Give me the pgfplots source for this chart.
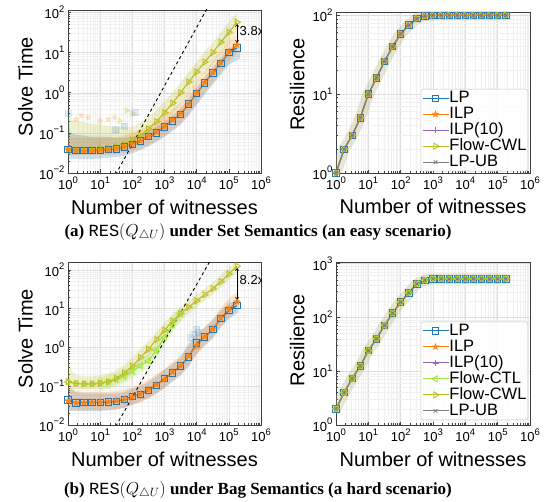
\documentclass[border=0pt]{standalone}
\usepackage{fontspec}
\usepackage{pgfplots}
\pgfplotsset{compat=1.18}
\usepackage{pgfplotstable}
\setmainfont{Liberation Serif}
\newfontfamily\sansf{Liberation Sans}
\newfontfamily\monof{Liberation Mono}

\definecolor{cLP}{RGB}{31,119,180}
\definecolor{cILP}{RGB}{255,127,14}
\definecolor{cPUR}{RGB}{148,103,189}
\definecolor{cCTL}{RGB}{160,230,60}
\definecolor{cCWL}{RGB}{188,189,34}
\definecolor{cUB}{RGB}{127,127,127}
\definecolor{cCloud}{RGB}{175,175,120}

\newcommand{\tp}[1]{10\raisebox{0.5em}{\fontsize{9.5}{9.5}\selectfont#1}}

% filled five-pointed star (matplotlib '*')
\pgfdeclareplotmark{fstar}{%
  \pgfpathmoveto{\pgfpointpolar{90}{\pgfplotmarksize}}%
  \pgfpathlineto{\pgfpointpolar{126}{0.42\pgfplotmarksize}}%
  \pgfpathlineto{\pgfpointpolar{162}{\pgfplotmarksize}}%
  \pgfpathlineto{\pgfpointpolar{198}{0.42\pgfplotmarksize}}%
  \pgfpathlineto{\pgfpointpolar{234}{\pgfplotmarksize}}%
  \pgfpathlineto{\pgfpointpolar{270}{0.42\pgfplotmarksize}}%
  \pgfpathlineto{\pgfpointpolar{306}{\pgfplotmarksize}}%
  \pgfpathlineto{\pgfpointpolar{342}{0.42\pgfplotmarksize}}%
  \pgfpathlineto{\pgfpointpolar{18}{\pgfplotmarksize}}%
  \pgfpathlineto{\pgfpointpolar{54}{0.42\pgfplotmarksize}}%
  \pgfpathclose\pgfusepathqfillstroke}

% ---- solve time, set semantics
\pgfplotstableread{
x LP ILP CWL
1 0.038 0.038 0.037
1.778 0.037 0.037 0.037
3.162 0.036 0.036 0.037
5.623 0.036 0.036 0.038
10 0.037 0.037 0.040
17.78 0.038 0.038 0.042
31.62 0.040 0.040 0.046
56.23 0.045 0.045 0.052
100 0.052 0.053 0.066
177.8 0.063 0.064 0.088
316.2 0.080 0.082 0.125
562.3 0.10 0.105 0.19
1000 0.14 0.145 0.32
1778 0.20 0.21 0.55
3162 0.29 0.30 1.0
5623 0.52 0.53 1.85
10000 0.96 1.0 3.3
17783 1.76 1.8 5.8
31623 3.1 3.2 10
56234 5.4 5.6 18
100000 9.9 10.5 32
177828 13 15.5 57
}\tabSetTime

% ---- solve time, bag semantics
\pgfplotstableread{
x LP ILP CWL CTL
1 0.044 0.042 0.13 0.13
1.778 0.037 0.037 0.118 0.118
3.162 0.038 0.038 0.115 0.115
5.623 0.038 0.039 0.115 0.115
10 0.038 0.039 0.12 0.12
17.78 0.039 0.040 0.13 0.13
31.62 0.041 0.042 0.16 0.15
56.23 0.045 0.046 0.22 0.18
100 0.055 0.053 0.33 0.24
177.8 0.062 0.063 0.55 0.34
316.2 0.079 0.081 0.9 0.45
562.3 0.106 0.11 1.6 0.85
1000 0.16 0.15 2.8 1.8
1778 0.22 0.23 4.8 3.8
3162 0.33 0.34 7.5 7.5
5623 0.57 0.6 11 nan
10000 1.3 1.1 16 nan
17783 1.85 1.9 23 nan
31623 2.9 3.0 33 nan
56234 5.5 5.8 50 nan
100000 8.9 9.8 78 nan
177828 12 15 125 nan
}\tabBagTime

% ---- resilience
\pgfplotstableread{
x R
1 1
1.778 2
3.162 3
5.623 5
10 10
17.78 16
31.62 26
56.23 40
100 58
177.8 75
316.2 91
562.3 98
1000 100
1778 100
3162 100
5623 100
10000 100
17783 100
31623 100
56234 100
100000 100
177828 100
}\tabSetRes

\pgfplotstableread{
x R
1 2
1.778 4
3.162 7.3
5.623 12.5
10 24
17.78 40
31.62 71
56.23 120
100 192
177.8 285
316.2 420
562.3 490
1000 520
1778 520
3162 520
5623 520
10000 520
17783 520
31623 520
56234 520
100000 520
177828 520
}\tabBagRes

\tikzset{
  pLP/.style={cLP, line width=1.1pt, mark=square, mark size=3.2pt, mark options={solid, line width=0.9pt}},
  pILP/.style={cILP, line width=1.1pt, mark=fstar, mark size=3.4pt, mark options={solid, fill=cILP, line width=0.3pt}},
  pP10/.style={cPUR, line width=1.1pt, mark=+, mark size=3pt, mark options={solid, line width=0.8pt}},
  pCTL/.style={cCTL, line width=1.1pt, mark=triangle, mark size=3.5pt, mark options={solid, rotate=90, line width=0.9pt}},
  pCWL/.style={cCWL, line width=1.1pt, mark=triangle, mark size=3.5pt, mark options={solid, rotate=-90, line width=0.9pt}},
  pUB/.style={cUB, line width=1.1pt, mark=x, mark size=2.6pt, mark options={solid, line width=0.8pt}},
  pBand/.style={draw=none, fill=#1, fill opacity=0.22},
  pCloud/.style={cCloud, line width=11pt, opacity=0.3, line join=round, line cap=round},
}

\pgfplotsset{
  every axis/.append style={
    scale only axis,
    xmin=1, xmax=1e6,
    xtick={1,10,100,1000,10000,100000,1000000},
    xticklabels={\tp{0},\tp{1},\tp{2},\tp{3},\tp{4},\tp{5},\tp{6}},
    minor xtick={2,3,4,5,6,7,8,9,20,30,40,50,60,70,80,90,200,300,400,500,600,700,800,900,2000,3000,4000,5000,6000,7000,8000,9000,20000,30000,40000,50000,60000,70000,80000,90000,200000,300000,400000,500000,600000,700000,800000,900000},
    minor ytick={0.02,0.03,0.04,0.05,0.06,0.07,0.08,0.09,0.2,0.3,0.4,0.5,0.6,0.7,0.8,0.9,2,3,4,5,6,7,8,9,20,30,40,50,60,70,80,90,200,300,400,500,600,700,800,900},
    grid=both,
    major grid style={black!13, line width=0.4pt},
    minor grid style={black!6, line width=0.3pt},
    axis line style={black!75, line width=0.8pt},
    tick style={black!75, line width=0.5pt},
    tick align=inside,
    xtick pos=bottom, ytick pos=left,
    major tick length=3.5pt, minor tick length=2pt,
    xticklabel style={font=\sansf\fontsize{13}{13}\selectfont},
    yticklabel style={font=\sansf\fontsize{13}{13}\selectfont},
    xlabel style={font=\sansf\fontsize{20}{20}\selectfont, at={(axis description cs:0.5,-0.21)}, anchor=center},
    ylabel style={font=\sansf\fontsize{20}{20}\selectfont, anchor=center},
    xlabel={Number of witnesses},
    legend cell align=left,
    legend style={font=\sansf\fontsize{16.5}{16.5}\selectfont,
      at={(0.99,0.01)}, anchor=south east, draw=black!25, rounded corners=2pt,
      fill=white, fill opacity=0.85, text opacity=1,
      inner sep=1pt, row sep=0pt,
      nodes={inner sep=0.4pt, text height=11.8pt, text depth=3.4pt}},
    legend image code/.code={\draw[mark repeat=2,mark phase=2,#1] plot coordinates {(0pt,0pt) (13pt,0pt) (26pt,0pt)};},
  },
}

\begin{document}
\begin{tikzpicture}
\path[use as bounding box] (0,0) rectangle (551pt,502pt);

% ================= top left: solve time (set)
\begin{axis}[xmode=log, ymode=log, at={(68pt,329pt)}, anchor=south west,
  width=193pt, height=163pt,
  ymin=0.01, ymax=115, ylabel={Solve Time},
  ylabel style={at={(axis description cs:-0.22,0.53)}},
  ytick={0.01,0.1,1,10,100}, yticklabels={\tp{−2},\tp{−1},\tp{0},\tp{1},\tp{2}}]
\addplot[pBand=cCWL, forget plot] coordinates {(1,0.25)(1.778,0.2)(3.162,0.18)(5.623,0.17)(10,0.16)(17.78,0.15)(31.62,0.14)(56.23,0.14)(100,0.14)(177.8,0.18)(316.2,0.24)(562.3,0.36)(1000,0.6)(1778,1.0)(3162,1.8)(5623,3.3)(10000,5.9)(17783,10.5)(31623,18)(56234,32)(100000,56)(177828,100)
  (177828,32)(100000,18)(56234,10)(31623,5.5)(17783,3.2)(10000,1.8)(5623,1.0)(3162,0.55)(1778,0.3)(1000,0.18)(562.3,0.11)(316.2,0.075)(177.8,0.055)(100,0.045)(56.23,0.038)(31.62,0.033)(10,0.03)(1,0.03)} -- cycle;
\addplot[pBand=cLP, forget plot] coordinates {(1,0.35)(1.2,0.1)(1.778,0.09)(3.162,0.085)(5.623,0.08)(10,0.08)(17.78,0.08)(31.62,0.075)(56.23,0.075)(100,0.08)(177.8,0.09)(316.2,0.11)(562.3,0.14)(1000,0.19)(1778,0.27)(3162,0.4)(5623,0.7)(10000,1.3)(17783,2.4)(31623,4.2)(56234,7.3)(100000,13)(220000,15)
  (220000,7)(177828,6.5)(100000,5)(56234,2.8)(31623,1.6)(17783,0.9)(10000,0.5)(5623,0.27)(3162,0.16)(1778,0.11)(1000,0.08)(562.3,0.06)(316.2,0.046)(177.8,0.037)(100,0.031)(56.23,0.027)(31.62,0.025)(10,0.023)(3.162,0.022)(1,0.022)} -- cycle;
\addplot[pBand=cILP, forget plot] coordinates {(1,0.075)(1.778,0.075)(3.162,0.075)(5.623,0.075)(10,0.075)(17.78,0.075)(31.62,0.078)(56.23,0.085)(100,0.1)(177.8,0.12)(316.2,0.15)(562.3,0.19)(1000,0.27)(1778,0.38)(3162,0.55)(5623,1.0)(10000,1.8)(17783,3.3)(31623,5.9)(56234,10.5)(100000,19)(177828,28)
  (177828,9)(100000,6)(56234,3.2)(31623,1.8)(17783,1.0)(10000,0.55)(5623,0.3)(3162,0.17)(1778,0.12)(1000,0.085)(562.3,0.062)(316.2,0.05)(177.8,0.04)(100,0.035)(56.23,0.032)(31.62,0.03)(10,0.028)(1,0.028)} -- cycle;
\addplot[only marks, mark=fstar, mark size=3pt, cILP, opacity=0.2, forget plot] coordinates {(1.8,0.22)(2.6,0.27)(4.2,0.24)(10,0.2)(17.8,0.22)(28,0.24)};
\addplot[only marks, mark=square*, mark size=3pt, cLP, opacity=0.15, forget plot] coordinates {(1,0.3)(120,0.32)(56,0.15)(30,0.12)};
\addplot[only marks, mark=triangle*, mark options={rotate=-90}, mark size=3.5pt, cCWL, opacity=0.25, forget plot] coordinates {(66,0.36)(100,0.3)(40,0.2)};
\addplot[black, dashed, line width=0.9pt, forget plot] coordinates {(20,0.005) (31623,226)};
\addplot[pCWL] table[x=x, y=CWL] {\tabSetTime};
\addplot[pLP] table[x=x, y=LP] {\tabSetTime};
\addplot[pILP] table[x=x, y=ILP] {\tabSetTime};
\draw[<->, >=stealth, line width=0.7pt] (axis cs:180000,54) -- (axis cs:180000,16.5);
\node[font=\sansf\fontsize{13}{13}\selectfont, anchor=west, inner sep=1pt] at (axis cs:200000,35) {3.8x};
\end{axis}

% ================= top right: resilience (set)
\begin{axis}[xmode=log, ymode=log, at={(336pt,329pt)}, anchor=south west,
  width=194pt, height=161pt,
  ymin=1, ymax=110, ylabel={Resilience},
  ylabel style={at={(axis description cs:-0.2,0.55)}},
  ytick={1,10,100}, yticklabels={\tp{0},\tp{1},\tp{2}}]
\addplot[pCloud, forget plot] table[x=x, y=R] {\tabSetRes};
\addplot[pLP] table[x=x, y=R] {\tabSetRes}; \addlegendentry{LP}
\addplot[pILP] table[x=x, y=R] {\tabSetRes}; \addlegendentry{ILP}
\addplot[pP10] table[x=x, y=R] {\tabSetRes}; \addlegendentry{ILP(10)}
\addplot[pCWL] table[x=x, y=R] {\tabSetRes}; \addlegendentry{Flow-CWL}
\addplot[pUB] table[x=x, y=R] {\tabSetRes}; \addlegendentry{LP-UB}
\end{axis}

% ================= bottom left: solve time (bag)
\begin{axis}[xmode=log, ymode=log, at={(68pt,77pt)}, anchor=south west,
  width=193pt, height=163pt,
  ymin=0.01, ymax=160, ylabel={Solve Time},
  ylabel style={at={(axis description cs:-0.22,0.53)}},
  ytick={0.01,0.1,1,10,100}, yticklabels={\tp{−2},\tp{−1},\tp{0},\tp{1},\tp{2}}]
\addplot[pBand=cCWL, forget plot] coordinates {(1,0.5)(1.3,0.25)(1.778,0.2)(3.162,0.18)(5.623,0.18)(10,0.19)(17.78,0.21)(31.62,0.26)(56.23,0.35)(100,0.55)(177.8,0.9)(316.2,1.45)(562.3,2.5)(1000,4.3)(1778,7.5)(3162,11)(5623,16)(10000,23)(17783,33)(31623,48)(56234,72)(100000,115)(177828,170)
  (177828,85)(100000,55)(56234,35)(31623,23)(17783,16)(10000,11)(5623,7.5)(3162,4.8)(1778,3)(1000,1.7)(562.3,0.95)(316.2,0.55)(177.8,0.33)(100,0.21)(56.23,0.14)(31.62,0.11)(17.78,0.09)(10,0.085)(1,0.085)} -- cycle;
\addplot[pBand=cCTL, forget plot] coordinates {(10,0.17)(17.78,0.19)(31.62,0.22)(56.23,0.27)(100,0.36)(177.8,0.5)(316.2,0.7)(562.3,1.3)(1000,2.8)(1778,6)(3162,11.5)
  (3162,5)(1778,2.5)(1000,1.2)(562.3,0.55)(316.2,0.3)(177.8,0.22)(100,0.16)(56.23,0.12)(31.62,0.1)(17.78,0.085)(10,0.08)} -- cycle;
\addplot[pBand=cLP, forget plot] coordinates {(1,0.09)(1.778,0.07)(3.162,0.065)(5.623,0.065)(10,0.065)(17.78,0.065)(31.62,0.065)(56.23,0.07)(100,0.085)(177.8,0.1)(316.2,0.13)(562.3,0.18)(1000,0.27)(1778,0.37)(3162,0.55)(5623,1.3)(10000,2.3)(17783,3.2)(31623,5)(56234,9)(100000,14)(200000,16)
  (200000,8)(100000,5.5)(56234,3.3)(31623,1.7)(17783,1.1)(10000,0.7)(5623,0.32)(3162,0.19)(1778,0.13)(1000,0.09)(562.3,0.065)(316.2,0.05)(177.8,0.04)(100,0.034)(56.23,0.028)(31.62,0.025)(10,0.023)(1,0.023)} -- cycle;
\addplot[pBand=cILP, forget plot] coordinates {(1,0.1)(1.778,0.075)(3.162,0.07)(5.623,0.07)(10,0.07)(17.78,0.072)(31.62,0.075)(56.23,0.08)(100,0.095)(177.8,0.11)(316.2,0.15)(562.3,0.2)(1000,0.28)(1778,0.42)(3162,0.62)(5623,1.1)(10000,2.0)(17783,3.4)(31623,5.4)(56234,10.5)(100000,18)(177828,27)
  (177828,9)(100000,5.9)(56234,3.5)(31623,1.8)(17783,1.15)(10000,0.66)(5623,0.36)(3162,0.2)(1778,0.14)(1000,0.09)(562.3,0.066)(316.2,0.049)(177.8,0.038)(100,0.032)(56.23,0.028)(31.62,0.025)(10,0.024)(1,0.024)} -- cycle;
\addplot[only marks, mark=square*, mark size=3pt, cLP, opacity=0.13, forget plot] coordinates {(10000,3)(8000,2.2)(6500,1.8)(11000,2.5)};
\addplot[black, dashed, line width=0.9pt, forget plot] coordinates {(20,0.005) (31623,226)};
\addplot[pCTL] table[x=x, y=CTL] {\tabBagTime};
\addplot[pCWL] table[x=x, y=CWL] {\tabBagTime};
\addplot[pLP] table[x=x, y=LP] {\tabBagTime};
\addplot[pILP] table[x=x, y=ILP] {\tabBagTime};
\draw[<->, >=stealth, line width=0.7pt] (axis cs:180000,118) -- (axis cs:180000,16);
\node[font=\sansf\fontsize{13}{13}\selectfont, anchor=west, inner sep=1pt] at (axis cs:200000,54) {8.2x};
\end{axis}

% ================= bottom right: resilience (bag)
\begin{axis}[xmode=log, ymode=log, at={(336pt,77pt)}, anchor=south west,
  width=194pt, height=163pt,
  ymin=1, ymax=1070, ylabel={Resilience},
  ylabel style={at={(axis description cs:-0.2,0.52)}},
  ytick={1,10,100,1000}, yticklabels={\tp{0},\tp{1},\tp{2},\tp{3}},
  legend style={at={(0.99,0.03)}}]
\addplot[pCloud, forget plot] table[x=x, y=R] {\tabBagRes};
\addplot[pLP] table[x=x, y=R] {\tabBagRes}; \addlegendentry{LP}
\addplot[pILP] table[x=x, y=R] {\tabBagRes}; \addlegendentry{ILP}
\addplot[pP10] table[x=x, y=R] {\tabBagRes}; \addlegendentry{ILP(10)}
\addplot[pCTL] table[x=x, y=R] {\tabBagRes}; \addlegendentry{Flow-CTL}
\addplot[pCWL] table[x=x, y=R] {\tabBagRes}; \addlegendentry{Flow-CWL}
\addplot[pUB] table[x=x, y=R] {\tabBagRes}; \addlegendentry{LP-UB}
\end{axis}

\node[font=\fontsize{17}{19}\selectfont\bfseries] at (258pt,270pt)
  {(a) {\monof\mdseries RES}$(Q_{\triangle U})$ under Set Semantics (an easy scenario)};
\node[font=\fontsize{17}{19}\selectfont\bfseries] at (258pt,12pt)
  {(b) {\monof\mdseries RES}$(Q_{\triangle U})$ under Bag Semantics (a hard scenario)};
\end{tikzpicture}
\end{document}
